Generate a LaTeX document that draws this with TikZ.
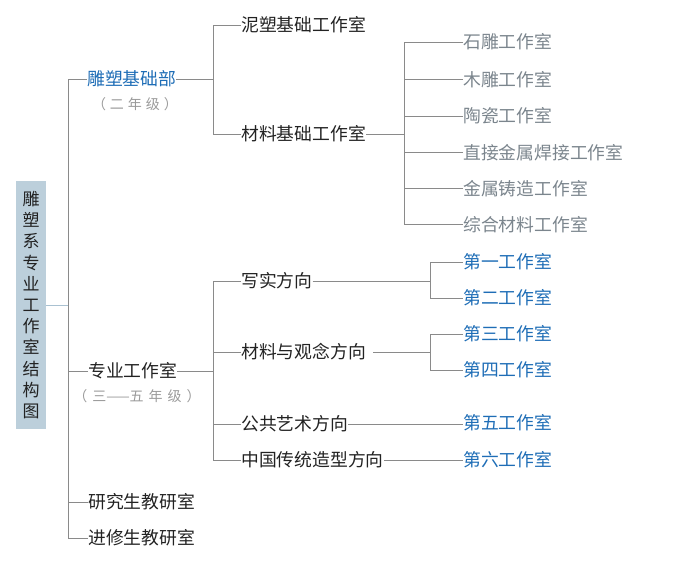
\documentclass[tikz,border=0pt]{standalone}
\usepackage{fontspec}
\setmainfont{Noto Sans CJK SC}
\definecolor{lin}{HTML}{8A8A8A}
\definecolor{rootln}{HTML}{A9C1D1}
\definecolor{rootbg}{HTML}{BCCFDB}
\definecolor{blu}{HTML}{1E6DB6}
\definecolor{gry}{HTML}{7B858D}
\definecolor{sub}{HTML}{9A9A9A}
\definecolor{blk}{HTML}{222222}
\begin{document}
\begin{tikzpicture}[x=1pt,y=-1pt,
  txt/.style={anchor=west,inner sep=0pt,text height=15.66pt,text depth=2.14pt,font=\fontsize{17.8}{20}\selectfont,text=blk},
  bl/.style={txt,text=blu},
  gy/.style={txt,text=gry},
  subl/.style={inner sep=0pt,text height=12.3pt,text depth=1.7pt,font=\fontsize{14}{15}\selectfont,text=sub},
  ln/.style={draw=lin,line width=0.8pt}]
\useasboundingbox (0,0) rectangle (700,561);
\coordinate (tk) at (68,0);
\coordinate (b1) at (213,0);
\coordinate (b2) at (404,0);
\coordinate (b3) at (430.5,0);
% root
\node[fill=rootbg,minimum width=30pt,minimum height=248pt,inner sep=0pt,align=center,
  font=\fontsize{17}{21.2}\selectfont,text=blk] (root) at (31,305)
  {雕\\塑\\系\\专\\业\\工\\作\\室\\结\\构\\图};
% level 1
\node[bl] (jc) at (87,79) {雕塑基础部};
\node[subl] (jcs) at (135,104) {（\hspace{4pt}二\hspace{4pt}年\hspace{4pt}级\hspace{4pt}）};
\node[txt] (zy) at (88,371) {专业工作室};
\node[subl] (zys) at (137,396) {（\hspace{5pt}三——五\hspace{5pt}年\hspace{5pt}级\hspace{5pt}）};
\node[txt] (yj) at (88,502) {研究生教研室};
\node[txt] (jx) at (88,538) {进修生教研室};
% level 2
\node[txt] (ns) at (241,25) {泥塑基础工作室};
\node[txt] (cl) at (241,134) {材料基础工作室};
\node[txt] (xs) at (241,281) {写实方向};
\node[txt] (cg) at (241,352) {材料与观念方向};
\node[txt] (gg) at (241,424) {公共艺术方向};
\node[txt] (zg) at (241,460) {中国传统造型方向};
% level 3 grey
\node[gy] (s1) at (463,42) {石雕工作室};
\node[gy] (s2) at (463,79.5) {木雕工作室};
\node[gy] (s3) at (463,116) {陶瓷工作室};
\node[gy] (s4) at (463,152.5) {直接金属焊接工作室};
\node[gy] (s5) at (463,188.5) {金属铸造工作室};
\node[gy] (s6) at (463,224.5) {综合材料工作室};
% level 3 blue
\node[bl] (d1) at (463,262) {第一工作室};
\node[bl] (d2) at (463,298) {第二工作室};
\node[bl] (d3) at (463,334) {第三工作室};
\node[bl] (d4) at (463,370) {第四工作室};
\node[bl] (d5) at (463,423) {第五工作室};
\node[bl] (d6) at (463,459.5) {第六工作室};
% connectors
\draw[draw=rootln,line width=0.8pt] (root.east) -- (root.east -| tk);
\draw[ln] (jc.west) -- (jc.west -| tk) |- (jx.west);
\draw[ln] (zy.west) -- (zy.west -| tk);
\draw[ln] (yj.west) -- (yj.west -| tk);
\draw[ln] (jc.east) -- (jc.east -| b1);
\draw[ln] (ns.west) -- (ns.west -| b1) |- (cl.west);
\draw[ln] (cl.east) -- (cl.east -| b2);
\draw[ln] (s1.west) -- (s1.west -| b2) |- (s6.west);
\foreach \n in {s2,s3,s4,s5} \draw[ln] (\n.west) -- (\n.west -| b2);
\draw[ln] (zy.east) -- (zy.east -| b1);
\draw[ln] (xs.west) -- (xs.west -| b1) |- (zg.west);
\draw[ln] (cg.west) -- (cg.west -| b1);
\draw[ln] (gg.west) -- (gg.west -| b1);
\draw[ln] (xs.east) -- (xs.east -| b3);
\draw[ln] (d1.west) -- (d1.west -| b3) |- (d2.west);
\draw[ln] ([xshift=7pt]cg.east) -- (cg.east -| b3);
\draw[ln] (d3.west) -- (d3.west -| b3) |- (d4.west);
\draw[ln] (gg.east) -- (d5.west |- gg.east);
\draw[ln] (zg.east) -- (d6.west |- zg.east);
\end{tikzpicture}
\end{document}
